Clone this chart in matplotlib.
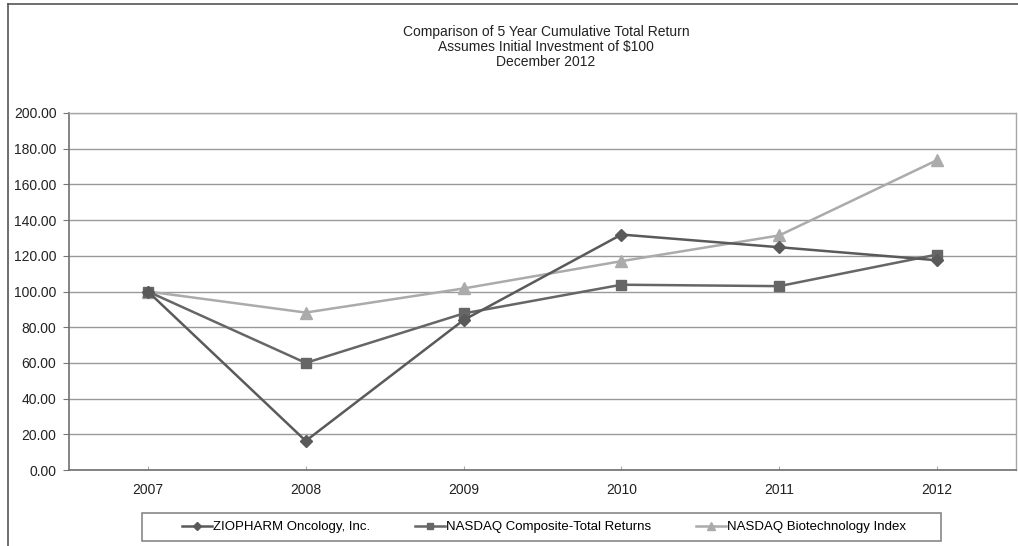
import matplotlib
matplotlib.use("Agg")
import matplotlib.pyplot as plt
from matplotlib.lines import Line2D
from matplotlib.patches import Rectangle

plt.rcParams['font.family'] = ['Liberation Sans', 'DejaVu Sans']

# データ
years = ["2007", "2008", "2009", "2010", "2011", "2012"]
ziopharm = [100.0, 16.3, 84.0, 131.9, 124.8, 117.5]
nasdaq_comp = [100.0, 60.0, 87.7, 103.8, 103.0, 120.7]
nasdaq_bio = [100.0, 88.2, 101.7, 117.0, 131.4, 173.6]
yticks = [0, 20, 40, 60, 80, 100, 120, 140, 160, 180, 200]

fig = plt.figure(figsize=(10.18, 5.46), dpi=100)
ax = fig.add_axes([69/1018, 76/546, (1016-69)/1018, (470-113)/546])

x = list(range(len(years)))
ax.plot(x, ziopharm, color="#5a5a5a", lw=1.8, marker="D", ms=6, label="ZIOPHARM Oncology, Inc.", zorder=4)
ax.plot(x, nasdaq_comp, color="#666666", lw=1.8, marker="s", ms=7, label="NASDAQ Composite-Total Returns", zorder=3)
ax.plot(x, nasdaq_bio, color="#ababab", lw=1.8, marker="^", ms=8, label="NASDAQ Biotechnology Index", zorder=2)

ax.set_xlim(-0.5, len(years) - 0.5)
ax.set_ylim(0, 200)
ax.set_yticks(yticks)
ax.set_yticklabels(["%.2f" % v for v in yticks], fontsize=10, color="#222222")
ax.set_xticks(x)
ax.set_xticklabels(years, fontsize=10, color="#222222")
ax.tick_params(axis="x", direction="in", length=3, color="#aaaaaa", pad=9)
ax.tick_params(axis="y", direction="out", length=4, color="#777777", pad=5)

# グリッド
ax.yaxis.grid(True, color="#9a9a9a", lw=1.0)
ax.set_axisbelow(True)
for s in ["left", "bottom"]:
    ax.spines[s].set_color("#707070")
    ax.spines[s].set_linewidth(1.2)
for s in ["top", "right"]:
    ax.spines[s].set_color("#a8a8a8")
    ax.spines[s].set_linewidth(1.0)

# タイトル
fig.text(546/1018, 1 - 47/546, "Comparison of 5 Year Cumulative Total Return\nAssumes Initial Investment of $100\nDecember 2012",
         ha="center", va="center", fontsize=10, linespacing=1.12, color="#222222")

# 外枠
fig.add_artist(Line2D([8/1018, 8/1018], [0, 1 - 4/546], color="#555555", lw=1.2))
fig.add_artist(Line2D([8/1018, 1], [1 - 4/546, 1 - 4/546], color="#555555", lw=1.2))

# 凡例
fig.add_artist(Rectangle((142/1018, (546-541)/546), (941-142)/1018, 28/546,
                         transform=fig.transFigure, fill=False, edgecolor="#888888", lw=1.2))
fig.legend(loc="center", bbox_to_anchor=(544/1018, (546-527)/546), ncol=3, frameon=False,
           fontsize=9.5, handlelength=2.3, handletextpad=0.05, columnspacing=3.4, markerscale=0.7)

fig.savefig("out.png", dpi=100)
